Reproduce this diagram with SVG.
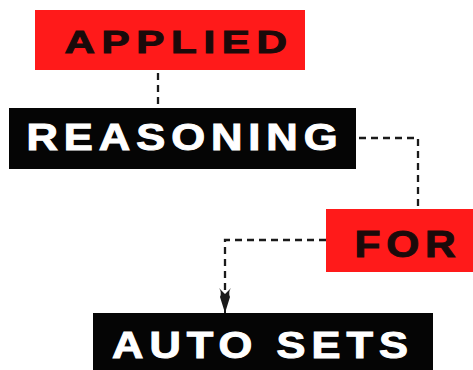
<svg xmlns="http://www.w3.org/2000/svg" width="473" height="370" viewBox="0 0 473 370">
<style>
.red{fill:#ff1a1a}
.blk{fill:#050505}
.t{font-family:"Liberation Sans",Arial,sans-serif;font-weight:bold;text-anchor:middle;stroke-width:1;letter-spacing:5px}
.dk{fill:#1a0a0a;stroke:#1a0a0a}
.wh{fill:#ffffff;stroke:#ffffff}
.c{fill:none;stroke:#1a1a1a;stroke-width:2.3;stroke-dasharray:7 5}
</style>
<rect width="473" height="370" fill="#ffffff"/>
<g id="connectors">
<path class="c" d="M158 73 V106"/>
<path class="c" d="M359 138 H418 V208"/>
<path class="c" d="M326 240 H225 V300"/>
<path d="M225 313 L220 297 Q222 292 219 288 L225 294 L231 288 Q228 292 230 297 Z" fill="#1a1a1a"/>
<path d="M225 296 V313" stroke="#1a1a1a" stroke-width="2"/>
</g>
<g id="applied">
<rect class="red" x="35" y="10" width="270" height="60"/>
<text class="t dk" x="179" y="53" font-size="32" textLength="229" lengthAdjust="spacingAndGlyphs">APPLIED</text>
</g>
<g id="reasoning">
<rect class="blk" x="9" y="108" width="347" height="61"/>
<text class="t wh" x="185" y="150" font-size="37" textLength="317" lengthAdjust="spacingAndGlyphs">REASONING</text>
</g>
<g id="for">
<rect class="red" x="326" y="209" width="147" height="63"/>
<text class="t dk" x="408" y="257" font-size="37" textLength="107" lengthAdjust="spacingAndGlyphs">FOR</text>
</g>
<g id="autosets">
<rect class="blk" x="93" y="313" width="340" height="57"/>
<text class="t wh" x="263" y="358" font-size="36" textLength="302" lengthAdjust="spacingAndGlyphs">AUTO SETS</text>
</g>
</svg>
